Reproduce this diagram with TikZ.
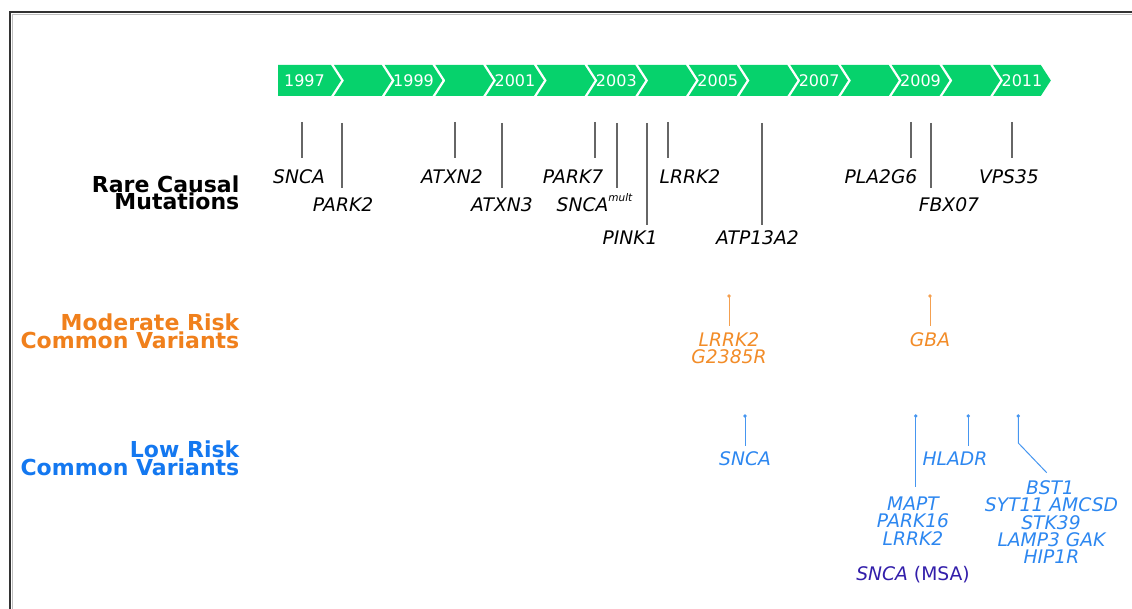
\documentclass[tikz,border=0pt]{standalone}
\usepackage{fontspec}
\setmainfont{DejaVu Sans}
\definecolor{chev}{RGB}{6,210,108}
\definecolor{orhdr}{RGB}{240,128,28}
\definecolor{orgene}{RGB}{242,140,40}
\definecolor{ortick}{RGB}{244,160,80}
\definecolor{blhdr}{RGB}{20,120,240}
\definecolor{blgene}{RGB}{45,135,240}
\definecolor{bltick}{RGB}{70,150,240}
\definecolor{indigo}{RGB}{50,30,170}
\begin{document}
\begin{tikzpicture}[x=1pt,y=-1pt,
  gene/.style={font=\fontsize{18.7}{17}\selectfont\itshape, inner sep=0pt, anchor=base},
  hdr/.style={font=\fontsize{22}{18}\selectfont\bfseries, inner sep=0pt, anchor=base east,
    text height=16pt, text depth=0pt},
  yearlbl/.style={font=\fontsize{16}{16}\selectfont, text=white, inner sep=0pt, anchor=base},
  tickline/.style={draw=black!60, line width=1.2pt},
  ortickline/.style={draw=ortick, line width=1pt},
  bltickline/.style={draw=bltick, line width=1pt},
  frameline/.style={draw=black!80, line width=2pt}
]
\useasboundingbox (0,0) rectangle (1132,609);

% frame
\coordinate (fbl) at (10,612);
\coordinate (ftl) at (10,12);
\coordinate (ftr) at (1135,12);
\draw[frameline] (fbl) -- (ftl) -- (ftr);
\coordinate (ibl) at (12.5,612);
\coordinate (itl) at (12.5,14.2);
\coordinate (itr) at (1135,14.2);
\draw[draw=black!25, line width=0.8pt] (ibl) -- (itl) -- (itr);

% chevron timeline
\foreach \i in {0,...,14}{
  \pgfmathsetmacro\R{331+50.7*\i}
  \pgfmathsetmacro\L{\i==0 ? 278 : 334+50.7*(\i-1)}
  \ifnum\i=0
    \fill[chev] (\L,65) -- (\R,65) -- ({\R+10},80.5) -- (\R,96) -- (\L,96) -- cycle;
  \else
    \fill[chev] (\L,65) -- (\R,65) -- ({\R+10},80.5) -- (\R,96) -- (\L,96) -- ({\L+10},80.5) -- cycle;
  \fi
}
\foreach \i [evaluate=\i as \yr using int(1997+\i)] in {0,2,...,14}{
  \pgfmathsetmacro\R{331+50.7*\i}
  \pgfmathsetmacro\cx{\i==0 ? (278+331)/2 : (334+50.7*(\i-1)+10+\R)/2}
  \node[yearlbl] (y\yr) at (\cx,86.3) {\yr};
}

% row headers
\node[hdr] (h1a) at (239.5,192.7) {Rare Causal};
\node[hdr] (h1b) at (239.5,210) {Mutations};
\node[hdr, text=orhdr] (h2a) at (239.5,330.7) {Moderate Risk};
\node[hdr, text=orhdr] (h2b) at (239.5,348.3) {Common Variants};
\node[hdr, text=blhdr] (h3a) at (239.5,457.3) {Low Risk};
\node[hdr, text=blhdr] (h3b) at (239.5,475) {Common Variants};

% rare causal mutation ticks
\foreach \n/\x/\ya/\yb in {snca/302/122/158, park2/342/123/188, atxn2/455/122/158,
  atxn3/502/123/188, park7/595/122/158, sncam/617/123/188, pink1/647/123/225,
  lrrk2/668/122/158, atp/762/123/225, pla/911/122/158, fbx/931/123/188, vps/1012/122/158}{
  \coordinate (\n top) at (\x,\ya);
  \coordinate (\n bot) at (\x,\yb);
  \draw[tickline] (\n top) -- (\n bot);
}

% rare causal mutation labels
\node[gene] (gsnca) at (299,183.5) {SNCA};
\node[gene] (gpark2) at (343,212) {PARK2};
\node[gene] (gatxn2) at (452,183.5) {ATXN2};
\node[gene] (gatxn3) at (502,212) {ATXN3};
\node[gene] (gpark7) at (573,183.5) {PARK7};
\node[gene] (gsncam) at (594.5,212) {SNCA\raisebox{10pt}{\fontsize{10.5}{10.5}\selectfont mult}};
\node[gene] (gpink1) at (630,245) {PINK1};
\node[gene] (glrrk2) at (690,183.5) {LRRK2};
\node[gene] (gatp) at (757.5,245) {ATP13A2};
\node[gene] (gpla) at (881,183.5) {PLA2G6};
\node[gene] (gfbx) at (949,212) {FBX07};
\node[gene] (gvps) at (1009,183.5) {VPS35};

% moderate risk
\foreach \n/\x in {olrrk/729, ogba/930}{
  \coordinate (\n top) at (\x,296);
  \coordinate (\n bot) at (\x,326);
  \draw[ortickline] (\n top) -- (\n bot);
  \fill[ortick] (\n top) circle (1.9);
}
\node[gene, text=orgene] (golrrk) at (729,346.7) {LRRK2};
\node[gene, text=orgene] (golrrkb) at (729,363.3) {G2385R};
\node[gene, text=orgene] (goba) at (930,346.7) {GBA};

% low risk
\foreach \n/\x/\yb in {bsnca/745/446, bmapt/915.7/487, bhla/968.3/446}{
  \coordinate (\n top) at (\x,416);
  \coordinate (\n bot) at (\x,\yb);
  \draw[bltickline] (\n top) -- (\n bot);
  \fill[bltick] (\n top) circle (1.9);
}
\coordinate (bbsttop) at (1018.3,416);
\coordinate (bbstmid) at (1018.3,443);
\coordinate (bbstbot) at (1046.7,472.7);
\draw[bltickline] (bbsttop) -- (bbstmid) -- (bbstbot);
\fill[bltick] (bbsttop) circle (1.9);

\node[gene, text=blgene] (gbsnca) at (745,465.7) {SNCA};
\node[gene, text=blgene] (gbhla) at (955,465.7) {HLADR};
\node[gene, text=blgene] (gbmapt) at (913,510.7) {MAPT};
\node[gene, text=blgene] (gbpark) at (913,527.7) {PARK16};
\node[gene, text=blgene] (gblrrk) at (913,545) {LRRK2};
\node[gene, text=indigo] (gbmsa) at (913,580) {SNCA \textup{(MSA)}};
\node[gene, text=blgene] (gbst) at (1050,494.3) {BST1};
\node[gene, text=blgene] (gbsyt) at (1051.5,511.7) {SYT11 AMCSD};
\node[gene, text=blgene] (gbstk) at (1051,529) {STK39};
\node[gene, text=blgene] (gblamp) at (1051.5,546.5) {LAMP3 GAK};
\node[gene, text=blgene] (gbhip) at (1051.5,563.5) {HIP1R};
\end{tikzpicture}
\end{document}
